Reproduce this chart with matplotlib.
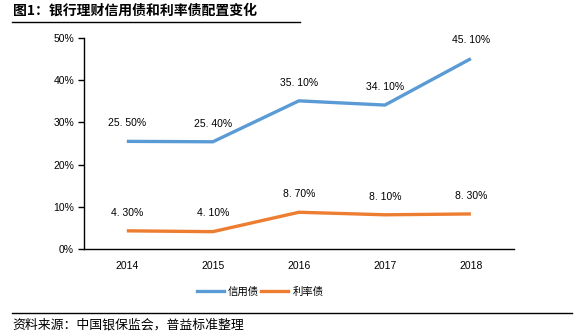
import matplotlib.pyplot as plt
from matplotlib.lines import Line2D

plt.rcParams['font.family'] = ['Liberation Sans', 'Noto Sans CJK SC', 'DejaVu Sans']

# Data
years = ['2014', '2015', '2016', '2017', '2018']
credit = [25.5, 25.4, 35.1, 34.1, 45.1]
rate = [4.3, 4.1, 8.7, 8.1, 8.3]
series_names = ['信用债', '利率债']

blue = '#5B9BD5'
orange = '#ED7D31'

fig = plt.figure(figsize=(5.82, 3.36), dpi=100)
ax = fig.add_axes([0.144, 0.259, 0.739, 0.628])

x = range(len(years))
ax.plot(x, credit, color=blue, lw=2.4, solid_capstyle='butt')
ax.plot(x, rate, color=orange, lw=2.4, solid_capstyle='butt')

for i, v in enumerate(credit):
    ax.annotate(f'{v:.2f}%'.replace('.', '. '), (i, v), xytext=(0, 9.5),
                textcoords='offset points', ha='center', va='bottom', fontsize=7.5)
for i, v in enumerate(rate):
    ax.annotate(f'{v:.2f}%'.replace('.', '. '), (i, v), xytext=(0, 9.5),
                textcoords='offset points', ha='center', va='bottom', fontsize=7.5)

ax.set_xlim(-0.5, 4.5)
ax.set_ylim(0, 50)
ax.set_xticks(list(x))
ax.set_xticklabels(years)
ax.set_yticks(range(0, 51, 10))
ax.set_yticklabels([f'{t}%' for t in range(0, 51, 10)])
ax.tick_params(axis='x', length=0, labelsize=7.5, pad=9)
ax.tick_params(axis='y', length=4, width=1, labelsize=7.5, pad=3)
ax.spines['top'].set_visible(False)
ax.spines['right'].set_visible(False)
ax.spines['left'].set_linewidth(1)
ax.spines['bottom'].set_linewidth(1)

handles = [Line2D([], [], color=blue, lw=2.4), Line2D([], [], color=orange, lw=2.4)]
fig.legend(handles, series_names, loc='center', bbox_to_anchor=(0.447, 0.131), ncol=2,
           frameon=False, handlelength=2.6, handletextpad=0.4,
           columnspacing=0.2, prop={'family': ['Noto Sans CJK SC'], 'size': 7.5})

# Title and source
fig.text(0.022, 0.967, '图1：银行理财信用债和利率债配置变化', fontsize=10, fontweight='bold',
         family=['Noto Sans CJK SC'], va='center')
fig.add_artist(Line2D([0.021, 0.515], [0.935, 0.935], color='black', lw=1))
fig.add_artist(Line2D([0.021, 0.983], [0.068, 0.068], color='black', lw=1))
fig.text(0.022, 0.033, '资料来源：中国银保监会，普益标准整理', fontsize=9.3,
         family=['Noto Sans CJK SC'], va='center')

fig.savefig('out.png', dpi=100)
